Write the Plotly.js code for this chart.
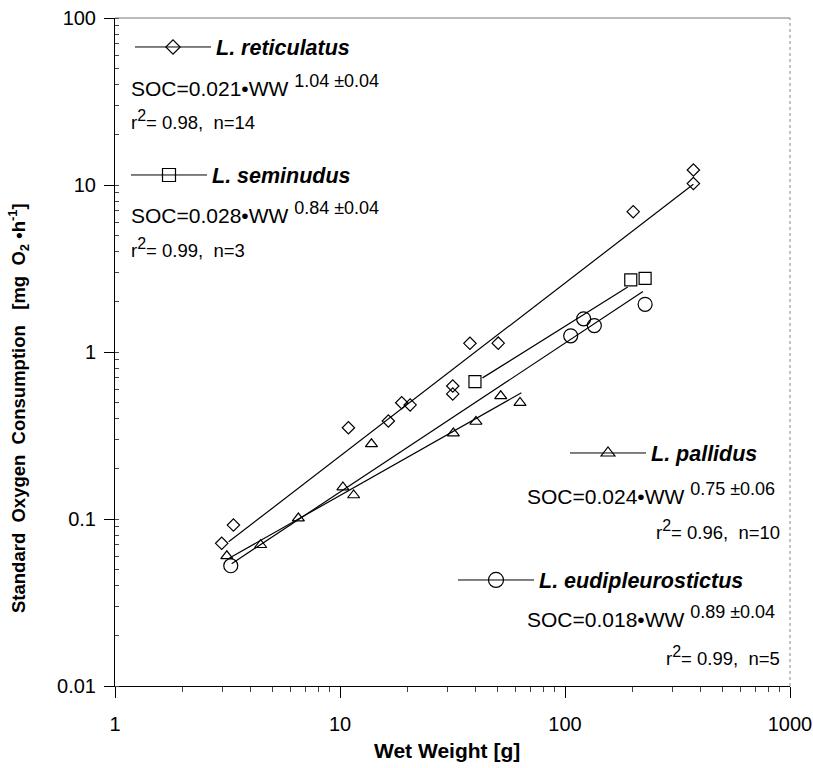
<!DOCTYPE html>
<html><head><meta charset="utf-8">
<script src="https://cdn.plot.ly/plotly-3.0.1.min.js"></script>
<style>html,body{margin:0;padding:0;background:#fff;}</style>
</head><body><div id="chart" style="width:813px;height:768px;"></div>
<script>
// L. reticulatus (diamonds)
const reticX = [2.98, 3.36, 10.9, 16.4, 18.8, 20.5, 31.7, 31.7, 37.8, 50.5, 201, 372, 372];
const reticY = [0.0715, 0.092, 0.352, 0.386, 0.497, 0.482, 0.626, 0.561, 1.127, 1.13, 6.92, 12.3, 10.2];
const reticFitX = [3.2, 372];
const reticFitY = [0.073, 10.1];
// L. seminudus (squares)
const semiX = [39.8, 196, 227];
const semiY = [0.664, 2.70, 2.76];
const semiFitX = [43, 190];
const semiFitY = [0.70, 2.45];
// L. pallidus (triangles)
const pallX = [3.14, 4.44, 6.53, 10.3, 11.5, 13.8, 31.9, 40.2, 51.8, 63.1];
const pallY = [0.060, 0.070, 0.101, 0.155, 0.139, 0.281, 0.326, 0.383, 0.545, 0.497];
const pallFitX = [3.2, 64];
const pallFitY = [0.058, 0.57];
// L. eudipleurostictus (circles)
const eudiX = [3.27, 106, 121, 135, 227];
const eudiY = [0.0525, 1.25, 1.58, 1.44, 1.93];
const eudiFitX = [3.3, 222];
const eudiFitY = [0.054, 2.30];

const species = ['L. reticulatus', 'L. seminudus', 'L. pallidus', 'L. eudipleurostictus'];
const exponents = ['1.04 ±0.04', '0.84 ±0.04', '0.75 ±0.06', '0.89 ±0.04'];
const coefs = ['0.021', '0.028', '0.024', '0.018'];
const r2 = ['0.98', '0.99', '0.96', '0.99'];
const nObs = ['14', '3', '10', '5'];
const equations = coefs.map((c, i) => 'SOC=' + c + '•WW <sup><span style="font-size:18px">' + exponents[i] + '</span></sup>');
const SQ = '<sup><span style="font-size:16px">2</span></sup>';
const stats = r2.map((r, i) => 'r' + SQ + '= ' + r + ',  n=' + nObs[i]);
const xTickVals = [1, 10, 100, 1000];
const xTickText = ['1', '10', '100', '1000'];
const yTickVals = [0.01, 0.1, 1, 10, 100];
const yTickText = ['0.01', '0.1', '1', '10', '100'];

const L = 115, R = 790, T = 18, B = 686;
const px = v => (v - L) / (R - L);
const py = v => (B - v) / (B - T);

const FONT = 'Liberation Sans, Arial, Helvetica, sans-serif';
const lineStyle = {color: '#000', width: 1.2};
const symbols = ['diamond-open', 'square-open', 'triangle-up-open', 'circle-open'];
const sizes = [9.5, 12, 10.5, 14];
const legendSizes = [11, 13, 12, 15];
const legendNames = ['legend', 'legend2', 'legend3', 'legend4'];
const dataX = [reticX, semiX, pallX, eudiX];
const dataY = [reticY, semiY, pallY, eudiY];
const fitX = [reticFitX, semiFitX, pallFitX, eudiFitX];
const fitY = [reticFitY, semiFitY, pallFitY, eudiFitY];

const traces = [];
for (let i = 0; i < 4; i++) {
  traces.push({x: fitX[i], y: fitY[i], type: 'scatter', mode: 'lines', line: lineStyle,
               showlegend: false, hoverinfo: 'skip'});
  traces.push({x: dataX[i], y: dataY[i], type: 'scatter', mode: 'markers', showlegend: false,
               marker: {symbol: symbols[i], size: sizes[i], color: '#000', line: {color: '#000', width: 1.2}}});
  traces.push({x: [null], y: [null], type: 'scatter', mode: 'lines+markers', name: '<b><i>' + species[i] + '</i></b>',
               legend: legendNames[i], showlegend: true, line: {color: '#000', width: 1},
               marker: {symbol: symbols[i], size: legendSizes[i], color: '#000', line: {color: '#000', width: 1.2}}});
}

const legendBase = {bgcolor: 'rgba(0,0,0,0)', borderwidth: 0, itemwidth: 76,
                    font: {family: FONT, size: 21.5, color: '#000'}, xanchor: 'left', yanchor: 'middle', tracegroupgap: 0};
const legendPos = [[130, 47], [126, 175], [565, 453], [453, 580]];

const annotations = [];
const eqPos = [[129, 'left', 85], [129, 'left', 212], [777, 'right', 494], [777, 'right', 616]];
const stPos = [[129, 'left', 120], [129, 'left', 248], [782, 'right', 530], [782, 'right', 656]];
for (let i = 0; i < 4; i++) {
  annotations.push({text: equations[i], xref: 'paper', yref: 'paper', x: px(eqPos[i][0]), y: py(eqPos[i][2]),
                    xanchor: eqPos[i][1], yanchor: 'middle', showarrow: false,
                    font: {family: FONT, size: 21, color: '#000'}});
  annotations.push({text: stats[i], xref: 'paper', yref: 'paper', x: px(stPos[i][0]), y: py(stPos[i][2]),
                    xanchor: stPos[i][1], yanchor: 'middle', showarrow: false,
                    font: {family: FONT, size: 18.5, color: '#000'}});
}
annotations.push({text: '<b>Wet Weight [g]</b>', xref: 'paper', yref: 'paper', x: px(447), y: py(750),
                  xanchor: 'center', yanchor: 'middle', showarrow: false, font: {family: FONT, size: 21, color: '#000'}});
annotations.push({text: '<b>Standard\u00a0\u00a0Oxygen\u00a0\u00a0Consumption\u00a0\u00a0\u00a0[mg\u00a0\u00a0O<sub>2</sub>\u00a0•h<sup>-1</sup>]</b>',
                  xref: 'paper', yref: 'paper', x: px(18), y: py(408), textangle: -90,
                  xanchor: 'center', yanchor: 'middle', showarrow: false, font: {family: FONT, size: 18.5, color: '#000'}});

const layout = {
  width: 813, height: 768,
  margin: {l: L, r: 813 - R, t: T, b: 768 - B, pad: 0},
  paper_bgcolor: '#fff', plot_bgcolor: '#fff',
  font: {family: FONT, size: 19, color: '#000'},
  showlegend: true,
  xaxis: {type: 'log', range: [0, 3], tickvals: xTickVals, ticktext: xTickText, ticks: 'outside', ticklen: 11,
          tickcolor: '#000', tickwidth: 1, showgrid: false, zeroline: false, showline: true, linecolor: '#000', linewidth: 1,
          ticklabelstandoff: 9, tickfont: {family: FONT, size: 20},
          minor: {ticks: 'outside', ticklen: 5, tickcolor: '#444', dtick: 'D1', showgrid: false}},
  yaxis: {type: 'log', range: [-2, 2], tickvals: yTickVals, ticktext: yTickText, ticks: 'outside', ticklen: 10,
          tickcolor: '#000', tickwidth: 1, showgrid: false, zeroline: false, showline: true, linecolor: '#000', linewidth: 1,
          ticklabelstandoff: 4, tickfont: {family: FONT, size: 20},
          minor: {ticks: 'inside', ticklen: 4, tickcolor: '#444', dtick: 'D1', showgrid: false}},
  shapes: [
    {type: 'line', xref: 'paper', yref: 'paper', x0: 0, x1: 1, y0: 1, y1: 1, line: {color: '#777', width: 1}},
    {type: 'line', xref: 'paper', yref: 'paper', x0: 1, x1: 1, y0: 0, y1: 1, line: {color: '#888', width: 1, dash: 'dot'}}
  ],
  annotations: annotations
};
legendNames.forEach((n, i) => {
  layout[n] = Object.assign({}, legendBase, {x: px(legendPos[i][0]), y: py(legendPos[i][1])});
});

Plotly.newPlot('chart', traces, layout, {displayModeBar: false, responsive: false});
</script></body></html>
